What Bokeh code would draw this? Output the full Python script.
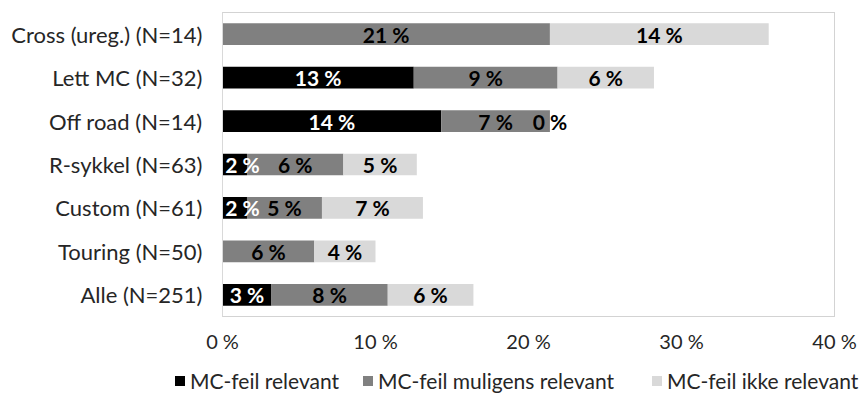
from bokeh.plotting import figure
from bokeh.layouts import column
from bokeh.models import ColumnDataSource, FixedTicker, Range1d, FactorRange, Div
from bokeh.core.properties import value
from bokeh.embed import file_html
from bokeh.resources import INLINE

categories = ["Cross (ureg.) (N=14)", "Lett MC (N=32)", "Off road (N=14)",
              "R-sykkel (N=63)", "Custom (N=61)", "Touring (N=50)", "Alle (N=251)"]
relevant = [None, 12.5, 14.3, 1.6, 1.6, None, 3.2]
muligens = [21.4, 9.4, 7.1, 6.3, 4.9, 6.0, 7.6]
ikke = [14.3, 6.3, 0.0, 4.8, 6.6, 4.0, 5.6]
series_names = ["MC-feil relevant", "MC-feil muligens relevant", "MC-feil ikke relevant"]
colors = ["#000000", "#808080", "#d9d9d9"]
label_colors = ["#ffffff", "#000000", "#000000"]
tick_values = [0, 10, 20, 30, 40]
tick_labels = ["0 %", "10 %", "20 %", "30 %", "40 %"]

FONT = "Lato"
TXT = "#262626"
series = [relevant, muligens, ikke]
keys = ["s0", "s1", "s2"]

data = {"cat": categories}
for k, s in zip(keys, series):
    data[k] = [0.0 if v is None else v for v in s]
source = ColumnDataSource(data)

p = figure(width=860, height=355, y_range=FactorRange(*categories[::-1], range_padding=0),
           x_range=Range1d(0, 40), output_backend="svg", toolbar_location=None,
           min_border_left=222, min_border_right=26, min_border_top=12, min_border_bottom=38)

p.hbar_stack(keys, y="cat", height=0.5, color=colors, line_color=None, source=source)

# segment labels (kept inside the plot area at the left edge)
MIN_CENTER = 1.3
lx, ly, lt, lc = [], [], [], []
cum = [0.0] * len(categories)
for s, col in zip(series, label_colors):
    for i, v in enumerate(s):
        val = 0.0 if v is None else v
        if v is not None:
            lx.append(max(cum[i] + val / 2, MIN_CENTER))
            ly.append(categories[i])
            lt.append(f"{int(val + 0.5)} %")
            lc.append(col)
        cum[i] += val
lsrc = ColumnDataSource(dict(x=lx, y=ly, text=lt, color=lc))
p.text(x="x", y="y", text="text", text_color="color", source=lsrc, text_align="center",
       text_baseline="middle", text_font=value(FONT), text_font_style="bold", text_font_size="21px")

p.xgrid.grid_line_color = None
p.ygrid.grid_line_color = None
p.outline_line_color = "#a6a6a6"
p.outline_line_dash = "1 1"

p.xaxis.ticker = FixedTicker(ticks=tick_values)
p.xaxis.major_label_overrides = {t: l for t, l in zip(tick_values, tick_labels)}
p.xaxis.axis_line_color = None
p.xaxis.major_tick_line_color = None
p.xaxis.minor_tick_line_color = None
p.xaxis.major_tick_out = 0
p.xaxis.minor_tick_out = 0
p.xaxis.major_label_standoff = 12
p.xaxis.major_label_text_font = FONT
p.xaxis.major_label_text_font_size = "20px"
p.xaxis.major_label_text_color = TXT

p.yaxis.axis_line_color = "#d9d9d9"
p.yaxis.major_tick_line_color = None
p.yaxis.minor_tick_line_color = None
p.yaxis.major_tick_out = 0
p.yaxis.minor_tick_out = 0
p.yaxis.major_label_standoff = 20
p.yaxis.major_label_text_font = FONT
p.yaxis.major_label_text_font_size = "22px"
p.yaxis.major_label_text_color = TXT

# legend row (real text, one swatch per series)
item_widths = ["188px", "289px", "auto"]
items_html = "".join(
    f'<span style="display:inline-block;width:{w};">'
    f'<span style="display:inline-block;width:10px;height:10px;background:{c};'
    f'margin-right:5px;vertical-align:middle;"></span>'
    f'<span style="vertical-align:middle;">{n}</span></span>'
    for n, c, w in zip(series_names, colors, item_widths))
legend_div = Div(
    text=(f'<div style="white-space:nowrap;font-family:Lato;font-size:21px;color:{TXT};'
          f'line-height:24px;padding-left:175px;padding-top:11px;">{items_html}</div>'),
    width=868, height=39, margin=0)

layout = column(p, legend_div, spacing=0)
open("out.html", "w").write(file_html(layout, INLINE))
